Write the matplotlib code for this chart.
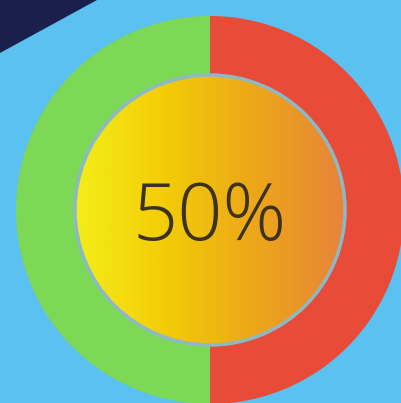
import matplotlib.pyplot as plt
import numpy as np
from matplotlib.colors import LinearSegmentedColormap
from matplotlib.patches import Circle, Polygon

# progress values
values = [50, 50]
colors = ["#7dd855", "#e84b37"]
label = "50%"

W, H = 402, 403
fig = plt.figure(figsize=(W / 100, H / 100), dpi=100)
fig.patch.set_facecolor("#5bc1f0")
ax = fig.add_axes([0, 0, 1, 1])
ax.set_facecolor("#5bc1f0")

# dark corner
ax.add_patch(Polygon([(0, H), (97, H), (0, H - 53)], closed=True,
                     facecolor="#1b1f4b", edgecolor="none", zorder=1))

cx, cy = 210, H - 210
ax.pie(values, colors=colors, startangle=90, counterclock=True,
       center=(cx, cy), radius=194,
       wedgeprops=dict(linewidth=0, edgecolor="none"))

# inner gradient disc
r_in = 135
cmap = LinearSegmentedColormap.from_list(
    "grad", ["#f3ee18", "#f3cc08", "#eca719", "#e8833a"])
grad = np.linspace(0, 1, 256).reshape(1, -1)
img = ax.imshow(grad, cmap=cmap, aspect="auto", zorder=3,
                extent=(cx - r_in, cx + r_in, cy - r_in, cy + r_in))
clip = Circle((cx, cy), r_in, transform=ax.transData)
img.set_clip_path(clip)
ax.add_patch(Circle((cx, cy), r_in, facecolor="none",
                    edgecolor="#8cb9c8", linewidth=2.5, zorder=4))

ax.text(cx, cy - 9, label, ha="center", va="center", fontsize=57,
        family="Open Sans", fontweight="light", color="#3d3220", zorder=5)

ax.set_xlim(0, W)
ax.set_ylim(0, H)
ax.set_aspect("auto")
ax.axis("off")
plt.savefig("out.png", dpi=100, facecolor=fig.get_facecolor())
